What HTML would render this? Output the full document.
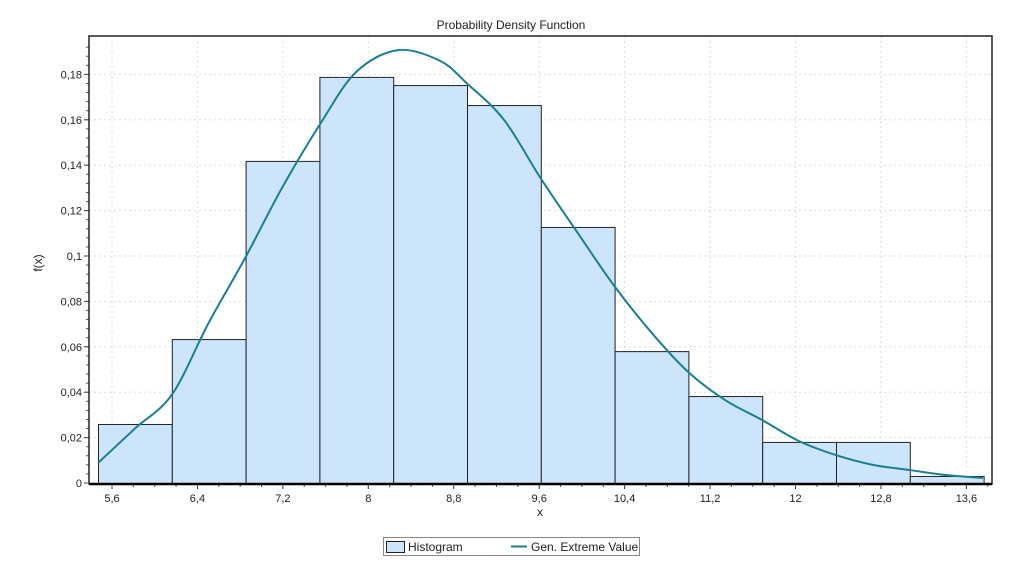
<!DOCTYPE html>
<html><head><meta charset="utf-8"><style>
body{margin:0;background:#fff;width:1023px;height:567px;overflow:hidden;font-family:"Liberation Sans",sans-serif}
svg text{font-family:"Liberation Sans",sans-serif;fill:#222}
</style></head><body>
<svg id="chart" width="1023" height="567">
<text x="511" y="29" font-size="12" text-anchor="middle">Probability Density Function</text>
<g id="grid"></g><g id="bars"></g><g id="curve"></g><g id="axes"></g>
<text x="540" y="516" font-size="12" text-anchor="middle">x</text>
<text x="0" y="0" font-size="12" text-anchor="middle" transform="translate(42,263) rotate(-90)">f(x)</text>
<g>
<rect x="383.5" y="537.5" width="256" height="18" fill="#fff" stroke="#888"/>
<rect x="386.5" y="541.5" width="18" height="11" fill="#cce5fb" stroke="#222"/>
<text x="408" y="551" font-size="12">Histogram</text>
<line x1="511" y1="546.5" x2="527" y2="546.5" stroke="#1a7f96" stroke-width="2"/>
<text x="531" y="551" font-size="12">Gen. Extreme Value</text>
</g>
</svg>
<script>
const binStart = 5.469;
const binWidth = 0.691;
const binHeights = [0.026,0.0634,0.1419,0.1789,0.1753,0.1665,0.1128,0.0581,0.0383,0.0181,0.0181,0.0031];
const curveX = [5.469,5.815,6.162,6.499,6.845,7.192,7.547,7.885,8.278,8.671,8.924,9.27,9.617,9.963,10.3,10.647,10.993,11.339,11.685,12.031,12.378,12.724,13.07,13.407,13.755];
const curveY = [0.0088,0.024,0.039,0.070,0.099,0.130,0.158,0.181,0.1907,0.186,0.176,0.160,0.134,0.110,0.087,0.0665,0.049,0.0366,0.0278,0.0185,0.0123,0.008,0.0057,0.0035,0.0022];
const xTicks = [5.6,6.4,7.2,8,8.8,9.6,10.4,11.2,12,12.8,13.6];
const yTicks = [0,0.02,0.04,0.06,0.08,0.1,0.12,0.14,0.16,0.18];
const L=89,R=992,T=36,B=484;
const xs=v=>112+(v-5.6)*106.8;
const ys=v=>483-v*2270;
const NS='http://www.w3.org/2000/svg';
function mk(tag,parent,attrs){const e=document.createElementNS(NS,tag);for(const k in attrs)e.setAttribute(k,attrs[k]);document.getElementById(parent).appendChild(e);return e;}
const fmt=v=>String(+v.toFixed(2)).replace('.',',');
yTicks.forEach(v=>{
 if(v>0){const g=mk('line','grid',{x1:L,x2:R,y1:ys(v),y2:ys(v),stroke:'#ddd','stroke-dasharray':'2,3'});
 
 }
 const t=mk('line','axes',{x1:L-5,x2:L,y1:ys(v),y2:ys(v),stroke:'#333'});
 
 
 const l=mk('text','axes',{x:L-7,y:ys(v)+4,'font-size':11,'text-anchor':'end'});l.textContent=fmt(v);
 
 
});
for(let v=0;v<0.195;v+=0.004){mk('line','axes',{x1:L-3,x2:L,y1:ys(v),y2:ys(v),stroke:'#555'});}
xTicks.forEach(v=>{
 const g=mk('line','grid',{x1:xs(v),x2:xs(v),y1:T,y2:B,stroke:'#ddd','stroke-dasharray':'2,3'});
 
 
 const t=mk('line','axes',{x1:xs(v),x2:xs(v),y1:B,y2:B+5,stroke:'#333'});
 
 
 const l=mk('text','axes',{x:xs(v),y:B+18,'font-size':11,'text-anchor':'middle'});l.textContent=fmt(v);
 
 
});
for(let v=5.6;v<13.8;v+=0.2){if(xs(v)<R)mk('line','axes',{x1:xs(v),x2:xs(v),y1:B,y2:B+3,stroke:'#555'});}
binHeights.forEach((h,i)=>{
 const x0=xs(binStart+i*binWidth),x1=xs(binStart+(i+1)*binWidth);
 const r=mk('rect','bars',{x:x0+0.5,y:ys(h)+0.5,width:x1-x0,height:ys(0)-ys(h),fill:'#cce5fb',stroke:'#222'});
 
 
});
const P=curveX.map((x,i)=>[xs(x),ys(curveY[i])]);
let d='M'+P[0][0]+','+P[0][1];
for(let i=0;i<P.length-1;i++){const p0=P[Math.max(0,i-1)],p1=P[i],p2=P[i+1],p3=P[Math.min(P.length-1,i+2)];
 d+=` C${p1[0]+(p2[0]-p0[0])/6},${p1[1]+(p2[1]-p0[1])/6} ${p2[0]-(p3[0]-p1[0])/6},${p2[1]-(p3[1]-p1[1])/6} ${p2[0]},${p2[1]}`;}
const c=mk('path','curve',{d:d,fill:'none',stroke:'#1a7f96','stroke-width':2});


const f=mk('rect','axes',{x:L,y:T,width:R-L,height:B-T,fill:'none',stroke:'#222','stroke-width':1.5});


const xa=mk('line','axes',{x1:L,x2:R,y1:B,y2:B,stroke:'#000','stroke-width':2.5});


</script>
</body></html>
